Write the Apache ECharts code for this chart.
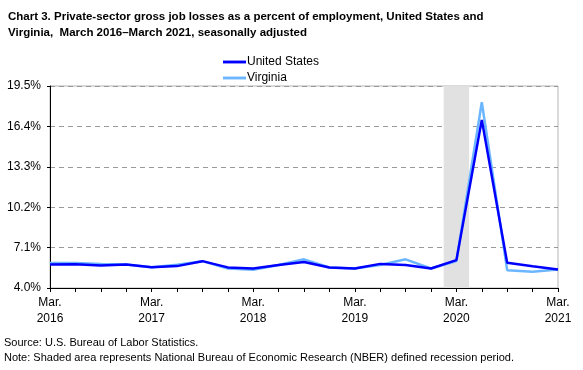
<!DOCTYPE html>
<html>
<head>
<meta charset="utf-8">
<script src="https://cdn.jsdelivr.net/npm/echarts@6/dist/echarts.min.js"></script>
<style>
html,body{margin:0;padding:0;background:#fff;}
#chart{width:583px;height:370px;}
</style>
</head>
<body>
<div id="chart"></div>
<script>
// Quarterly periods, March 2016 – March 2021
const quarters = ['Mar 2016','Jun 2016','Sep 2016','Dec 2016','Mar 2017','Jun 2017','Sep 2017','Dec 2017',
  'Mar 2018','Jun 2018','Sep 2018','Dec 2018','Mar 2019','Jun 2019','Sep 2019','Dec 2019',
  'Mar 2020','Jun 2020','Sep 2020','Dec 2020','Mar 2021'];
const unitedStates = [5.81,5.83,5.73,5.81,5.60,5.68,6.06,5.58,5.50,5.76,6.00,5.58,5.50,5.85,5.76,5.50,6.14,16.90,5.93,5.67,5.42];
const virginia     = [5.91,5.91,5.85,5.81,5.60,5.78,6.06,5.50,5.40,5.76,6.20,5.58,5.50,5.76,6.20,5.50,6.06,18.25,5.37,5.24,5.42];
const xTickLabels = ['Mar.\n2016','Mar.\n2017','Mar.\n2018','Mar.\n2019','Mar.\n2020','Mar.\n2021'];
const yTickLabels = ['4.0%','7.1%','10.2%','13.3%','16.4%','19.5%'];
const recession = [15.5, 16.5]; // quarter-index span of shaded recession
const yBase = 4.0, yStep = 3.1, yTop = 19.5;

const toPts = arr => arr.map((v, i) => [i, +(v - yBase).toFixed(3)]);

const chart = echarts.init(document.getElementById('chart'), null, {renderer: 'canvas'});
const font = 'Arial, "Liberation Sans", sans-serif';
const legendIcon = 'path://M0,0 L24,0 L24,3 L0,3 Z';
chart.setOption({
  animation: false,
  backgroundColor: '#fff',
  title: {
    text: 'Chart 3. Private-sector gross job losses as a percent of employment, United States and\nVirginia,  March 2016\u2013March 2021, seasonally adjusted',
    left: 3, top: 4,
    textStyle: {fontFamily: font, fontSize: 11.5, fontWeight: 'bold', color: '#000', lineHeight: 16}
  },
  legend: {
    orient: 'vertical', left: 218, top: 50, itemWidth: 23, itemHeight: 3, itemGap: 2,
    data: [{name: 'United States', icon: legendIcon}, {name: 'Virginia', icon: legendIcon}],
    textStyle: {fontFamily: font, fontSize: 12, color: '#000', padding: [0,0,0,-4], lineHeight: 14}
  },
  grid: {left: 50, right: 25, top: 86, bottom: 82, show: true, borderColor: '#b4b4b4', borderWidth: 1, backgroundColor: 'transparent'},
  xAxis: {
    type: 'value', min: 0, max: quarters.length - 1, interval: 1,
    axisLine: {lineStyle: {color: '#000', width: 1}},
    axisTick: {show: true, length: 4, lineStyle: {color: '#000'}},
    splitLine: {show: false},
    axisLabel: {
      fontFamily: font, fontSize: 12, color: '#000', lineHeight: 16, margin: 7,
      formatter: v => (v % 4 === 0 ? xTickLabels[v / 4] : '')
    }
  },
  yAxis: {
    type: 'value', min: 0, max: +(yTop - yBase).toFixed(1), interval: yStep,
    axisLine: {show: true, lineStyle: {color: '#000', width: 1}},
    axisTick: {show: true, length: 3, lineStyle: {color: '#000'}},
    splitLine: {show: true, lineStyle: {color: '#9a9a9a', type: [5, 4], width: 1}},
    axisLabel: {
      fontFamily: font, fontSize: 12, color: '#000', margin: 9,
      formatter: v => yTickLabels[Math.round(v / yStep)]
    }
  },
  series: [
    {
      name: 'Virginia', type: 'line', data: toPts(virginia), symbol: 'none', z: 2,
      lineStyle: {color: '#6cb6ff', width: 2.5}, itemStyle: {color: '#6cb6ff'},
      markArea: {
        silent: true,
        itemStyle: {color: '#e1e1e1'},
        data: [[{xAxis: recession[0]}, {xAxis: recession[1]}]]
      }
    },
    {
      name: 'United States', type: 'line', data: toPts(unitedStates), symbol: 'none', z: 3,
      lineStyle: {color: '#0000ff', width: 2.5}, itemStyle: {color: '#0000ff'}
    }
  ],
  graphic: [
    {type: 'text', left: 4, top: 337, style: {text: 'Source: U.S. Bureau of Labor Statistics.', font: '11px "Liberation Sans", Arial, sans-serif', fill: '#000'}},
    {type: 'text', left: 4, top: 352, style: {text: 'Note: Shaded area represents National Bureau of Economic Research (NBER) defined recession period.', font: '11px "Liberation Sans", Arial, sans-serif', fill: '#000'}}
  ]
});
</script>
</body>
</html>
